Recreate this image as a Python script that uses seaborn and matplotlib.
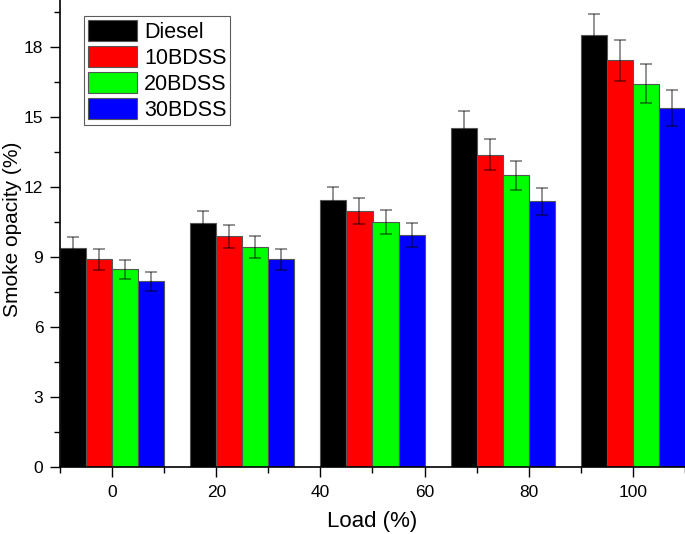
import pandas as pd
import numpy as np
import matplotlib.pyplot as plt
import seaborn as sns

# Smoke opacity (%)
loads = [0, 25, 50, 75, 100]
fuels = ['Diesel', '10BDSS', '20BDSS', '30BDSS']
diesel = [9.40, 10.46, 11.43, 14.52, 18.49]
bdss10 = [8.89, 9.89, 10.95, 13.37, 17.42]
bdss20 = [8.46, 9.43, 10.49, 12.49, 16.42]
bdss30 = [7.95, 8.89, 9.94, 11.38, 15.36]

# error bar half-lengths
err_diesel = [0.47, 0.52, 0.57, 0.73, 0.92]
err_bdss10 = [0.44, 0.49, 0.55, 0.67, 0.87]
err_bdss20 = [0.42, 0.47, 0.52, 0.62, 0.82]
err_bdss30 = [0.40, 0.44, 0.50, 0.57, 0.77]

colors = ['#000000', '#FF0000', '#00FF00', '#0000FF']

values = [diesel, bdss10, bdss20, bdss30]
errors = [err_diesel, err_bdss10, err_bdss20, err_bdss30]
rows = []
for fuel, vals, errs in zip(fuels, values, errors):
    for load, v, e in zip(loads, vals, errs):
        rows.append({'Load': load, 'Fuel': fuel, 'Opacity': v, 'Err': e})
df = pd.DataFrame(rows)

sns.set_style('ticks', {'axes.edgecolor': 'black', 'text.color': 'black',
                        'xtick.color': 'black', 'ytick.color': 'black',
                        'axes.labelcolor': 'black'})
plt.rcParams['font.family'] = ['Liberation Sans', 'DejaVu Sans']

fig = plt.figure(figsize=(6.85, 5.34), dpi=100)
ax = fig.add_axes([60 / 685, 67 / 534, 625 / 685, 467 / 534])

sns.barplot(data=df, x='Load', y='Opacity', hue='Fuel', hue_order=fuels,
            palette=colors, native_scale=True, width=0.8, errorbar=None,
            edgecolor='#555555', linewidth=0.8, saturation=1, ax=ax)

# error bars on each bar
for container, fuel in zip(ax.containers, fuels):
    sub = df[df['Fuel'] == fuel].sort_values('Load')
    xs = [b.get_x() + b.get_width() / 2 for b in container]
    hs = [b.get_height() for b in container]
    ax.errorbar(xs, hs, yerr=sub['Err'].values, fmt='none', ecolor='black',
                alpha=0.5, elinewidth=1.2, capsize=4.5, capthick=1.2, zorder=5)

ax.set_xlim(-10, 110)
ax.set_ylim(0, 20)
ax.set_xticks([0, 20, 40, 60, 80, 100])
ax.set_xticks([-10, 10, 30, 50, 70, 90, 110], minor=True)
ax.set_yticks([0, 3, 6, 9, 12, 15, 18])
ax.set_yticks(np.arange(1.5, 20, 3), minor=True)
ax.tick_params(axis='both', which='major', length=7, width=1, labelsize=12.5)
ax.tick_params(axis='both', which='minor', length=4, width=1)
ax.tick_params(axis='x', pad=6)
ax.tick_params(axis='y', pad=5)

for side in ['left', 'bottom']:
    ax.spines[side].set_linewidth(1.2)
sns.despine(ax=ax)

ax.set_xlabel('Load (%)', fontsize=16, labelpad=8)
ax.set_ylabel('Smoke opacity (%)', fontsize=15)
ax.yaxis.set_label_coords(-0.061, 0.51)

handles, labels = ax.get_legend_handles_labels()
ax.legend(handles, labels, loc='upper left',
          bbox_to_anchor=(84 / 685, 1 - 16 / 534), bbox_transform=fig.transFigure,
          prop={'size': 15.5}, frameon=True, fancybox=False, edgecolor='#333333',
          handlelength=2.28, handleheight=1.16, labelspacing=0.14,
          handletextpad=0.34, borderpad=0.17, borderaxespad=0)
leg = ax.get_legend()
leg.get_frame().set_linewidth(0.8)

fig.savefig('out.png', dpi=100)
